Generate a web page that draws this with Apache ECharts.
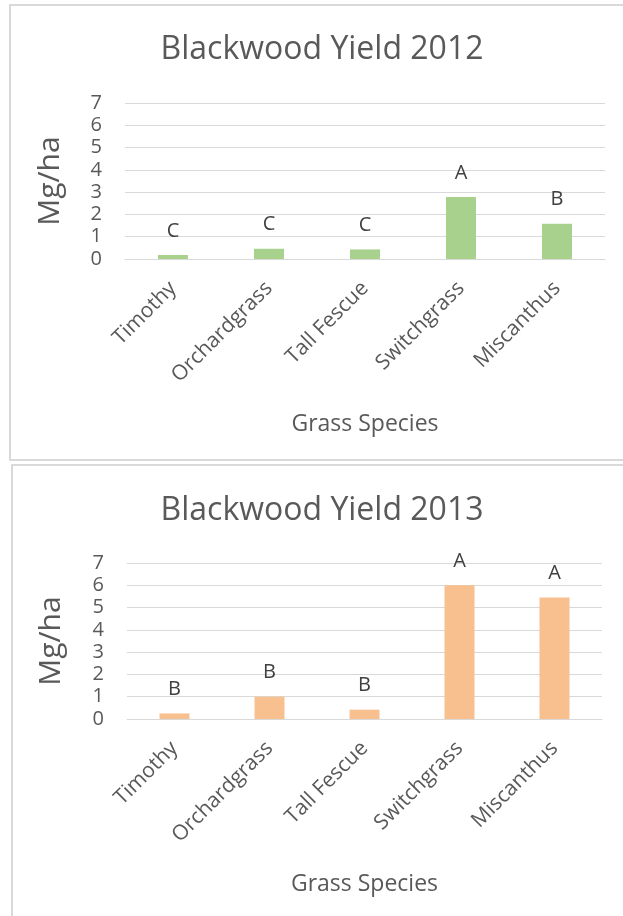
<!DOCTYPE html>
<html>
<head>
<meta charset="utf-8">
<script src="https://cdn.jsdelivr.net/npm/echarts@6/dist/echarts.min.js"></script>
<style>
  html, body { margin: 0; padding: 0; background: #fff; }
  .panel { position: absolute; border: 2px solid #d9d9d9; box-sizing: border-box; }
  #chart { position: absolute; left: 0; top: 0; width: 623px; height: 916px; }
</style>
</head>
<body>
<div class="panel" style="left:9px; top:4px; width:640px; height:457px;"></div>
<div class="panel" style="left:11px; top:464px; width:640px; height:480px;"></div>
<div id="chart"></div>
<script>
  // data
  const species = ['Timothy', 'Orchardgrass', 'Tall Fescue', 'Switchgrass', 'Miscanthus'];
  const yield2012 = [0.18, 0.46, 0.43, 2.78, 1.58];
  const yield2013 = [0.25, 1.0, 0.42, 6.0, 5.45];
  const letters2012 = ['C', 'C', 'C', 'A', 'B'];
  const letters2013 = ['B', 'B', 'B', 'A', 'A'];
  const yTicks = [0, 1, 2, 3, 4, 5, 6, 7];

  const font = '"Open Sans", "Noto Sans", sans-serif';
  const textColor = '#595959';
  const gridColor = '#d9d9d9';

  const chart = echarts.init(document.getElementById('chart'), null, {renderer: 'canvas'});

  function xAxisFor(idx) {
    return {
      type: 'category',
      gridIndex: idx,
      data: species,
      name: 'Grass Species',
      nameLocation: 'middle',
      nameGap: 154,
      nameTextStyle: {color: textColor, fontFamily: font, fontSize: 23},
      axisLine: {lineStyle: {color: gridColor, width: 1}},
      axisTick: {show: false},
      axisLabel: {rotate: 45, margin: 26, color: textColor, fontFamily: font, fontSize: 21, interval: 0}
    };
  }

  function yAxisFor(idx, gap) {
    return {
      type: 'value',
      gridIndex: idx,
      min: yTicks[0],
      max: yTicks[yTicks.length - 1],
      interval: 1,
      name: 'Mg/ha',
      nameLocation: 'middle',
      nameGap: gap,
      nameTextStyle: {color: textColor, fontFamily: font, fontSize: 30},
      axisLine: {show: false},
      axisTick: {show: false},
      axisLabel: {margin: 23, color: textColor, fontFamily: font, fontSize: 20},
      splitLine: {lineStyle: {color: gridColor, width: 1}}
    };
  }

  function barSeries(idx, values, letters, color) {
    return {
      type: 'bar',
      xAxisIndex: idx,
      yAxisIndex: idx,
      data: values,
      barWidth: 30,
      itemStyle: {color: color},
      label: {
        show: true,
        position: 'top',
        distance: 14,
        color: '#404040',
        fontFamily: font,
        fontSize: 20,
        formatter: function (p) { return letters[p.dataIndex]; }
      }
    };
  }

  const option = {
    animation: false,
    graphic: [
      {type: 'text', x: 322, y: 50, style: {text: 'Blackwood Yield 2012', fill: textColor, font: '32px ' + font, textAlign: 'center', textVerticalAlign: 'middle'}},
      {type: 'text', x: 322, y: 511, style: {text: 'Blackwood Yield 2013', fill: textColor, font: '32px ' + font, textAlign: 'center', textVerticalAlign: 'middle'}}
    ],
    grid: [
      {left: 125, top: 103, width: 480, height: 156},
      {left: 127, top: 563, width: 475, height: 156}
    ],
    xAxis: [xAxisFor(0), xAxisFor(1)],
    yAxis: [yAxisFor(0, 60), yAxisFor(1, 61)],
    series: [
      barSeries(0, yield2012, letters2012, '#A9D18E'),
      barSeries(1, yield2013, letters2013, '#F8C08E')
    ]
  };

  chart.setOption(option);
</script>
</body>
</html>
